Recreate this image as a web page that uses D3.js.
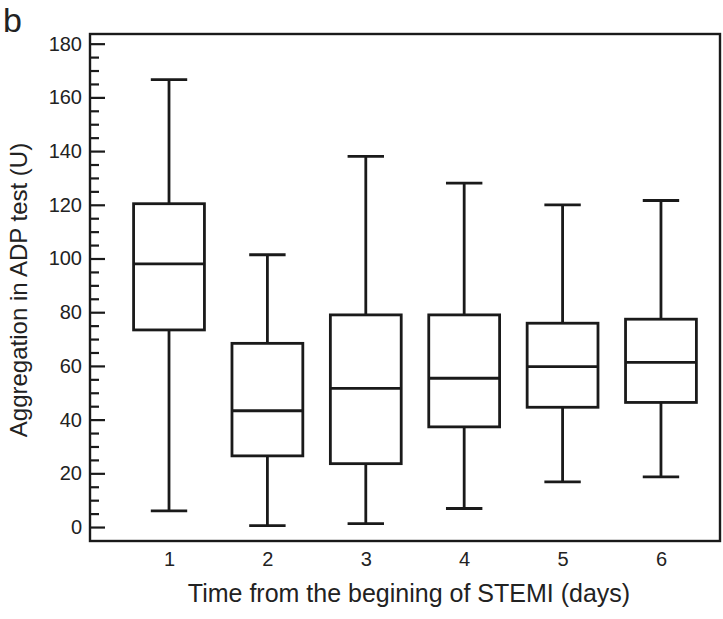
<!DOCTYPE html>
<html>
<head>
<meta charset="utf-8">
<script src="https://cdn.jsdelivr.net/npm/d3@7"></script>
<style>
  body { margin: 0; background: #fff; }
  text { font-family: "Liberation Sans", Arial, Helvetica, sans-serif; fill: #222; }
</style>
</head>
<body>
<div id="chart"></div>
<script>
const width = 723, height = 619;

// data
const days = [1, 2, 3, 4, 5, 6];
const whiskerLow = [6, 0.5, 1.3, 6.9, 16.8, 18.7];
const q1 = [73.4, 26.5, 23.6, 37.3, 44.6, 46.4];
const median = [98, 43.3, 51.6, 55.4, 59.7, 61.3];
const q3 = [120.4, 68.4, 79, 79, 75.9, 77.4];
const whiskerHigh = [166.6, 101.4, 138, 128.1, 120, 121.6];
const yTicks = [0, 20, 40, 60, 80, 100, 120, 140, 160, 180];

const boxes = days.map((d, i) => ({
	day: d, lo: whiskerLow[i], q1: q1[i], med: median[i], q3: q3[i], hi: whiskerHigh[i]
}));

const plot = { left: 90, right: 720, top: 34, bottom: 541 };

const svg = d3.select("#chart")
	.append("svg")
	.attr("width", width)
	.attr("height", height);

const x = d3.scaleLinear()
	.domain([0.197, 6.6])
	.range([plot.left, plot.right]);

const y = d3.scaleLinear()
	.domain([-5.2, 183.6])
	.range([plot.bottom, plot.top]);

const step = x(2) - x(1);
const boxW = step * 0.72, capW = step * 0.37;

// y axis with inward ticks, minor every 5
const minor = d3.range(0, 181, 5).filter(v => v % 20 !== 0);
svg.append("g")
	.attr("transform", `translate(${plot.left},0)`)
	.call(d3.axisRight(y).tickValues(minor).tickSize(9).tickFormat(""))
	.call(g => g.select(".domain").remove())
	.call(g => g.selectAll("line").attr("stroke", "#1a1a1a").attr("stroke-width", 2.2));

const yAxis = svg.append("g")
	.attr("transform", `translate(${plot.left},0)`)
	.call(d3.axisRight(y).tickValues(yTicks).tickSize(15))
	.call(g => g.select(".domain").remove());
yAxis.selectAll("line").attr("stroke", "#1a1a1a").attr("stroke-width", 2.2);
yAxis.selectAll("text")
	.attr("text-anchor", "end")
	.attr("x", -8)
	.attr("font-size", 20)
	.attr("fill", "#222");

// x axis labels (no tick marks)
const xAxis = svg.append("g")
	.attr("transform", `translate(0,${plot.bottom})`)
	.call(d3.axisBottom(x).tickValues(days).tickSize(0).tickPadding(11).tickFormat(d3.format("d")))
	.call(g => g.select(".domain").remove());
xAxis.selectAll("text").attr("font-size", 20).attr("fill", "#222");

// frame
svg.append("rect")
	.attr("x", plot.left)
	.attr("y", plot.top)
	.attr("width", plot.right - plot.left)
	.attr("height", plot.bottom - plot.top)
	.attr("fill", "none")
	.attr("stroke", "#1a1a1a")
	.attr("stroke-width", 2.4);

// boxes
const g = svg.selectAll(".box")
	.data(boxes)
	.enter()
	.append("g")
	.classed("box", true)
	.attr("stroke", "#1a1a1a")
	.attr("stroke-width", 2.8)
	.attr("fill", "none");

g.append("line")
	.attr("x1", d => x(d.day)).attr("x2", d => x(d.day))
	.attr("y1", d => y(d.hi)).attr("y2", d => y(d.q3));
g.append("line")
	.attr("x1", d => x(d.day)).attr("x2", d => x(d.day))
	.attr("y1", d => y(d.q1)).attr("y2", d => y(d.lo));
g.append("line")
	.attr("x1", d => x(d.day) - capW / 2).attr("x2", d => x(d.day) + capW / 2)
	.attr("y1", d => y(d.hi)).attr("y2", d => y(d.hi));
g.append("line")
	.attr("x1", d => x(d.day) - capW / 2).attr("x2", d => x(d.day) + capW / 2)
	.attr("y1", d => y(d.lo)).attr("y2", d => y(d.lo));
g.append("rect")
	.attr("x", d => x(d.day) - boxW / 2)
	.attr("width", boxW)
	.attr("y", d => y(d.q3))
	.attr("height", d => y(d.q1) - y(d.q3));
g.append("line")
	.attr("x1", d => x(d.day) - boxW / 2).attr("x2", d => x(d.day) + boxW / 2)
	.attr("y1", d => y(d.med)).attr("y2", d => y(d.med));

// titles
svg.append("text")
	.attr("x", 409)
	.attr("y", 602)
	.attr("text-anchor", "middle")
	.attr("font-size", 25)
	.text("Time from the begining of STEMI (days)");

svg.append("text")
	.attr("transform", `translate(27,290) rotate(-90)`)
	.attr("text-anchor", "middle")
	.attr("font-size", 24)
	.text("Aggregation in ADP test (U)");

svg.append("text")
	.attr("x", 3)
	.attr("y", 32)
	.attr("font-size", 34)
	.text("b");
</script>
</body>
</html>
